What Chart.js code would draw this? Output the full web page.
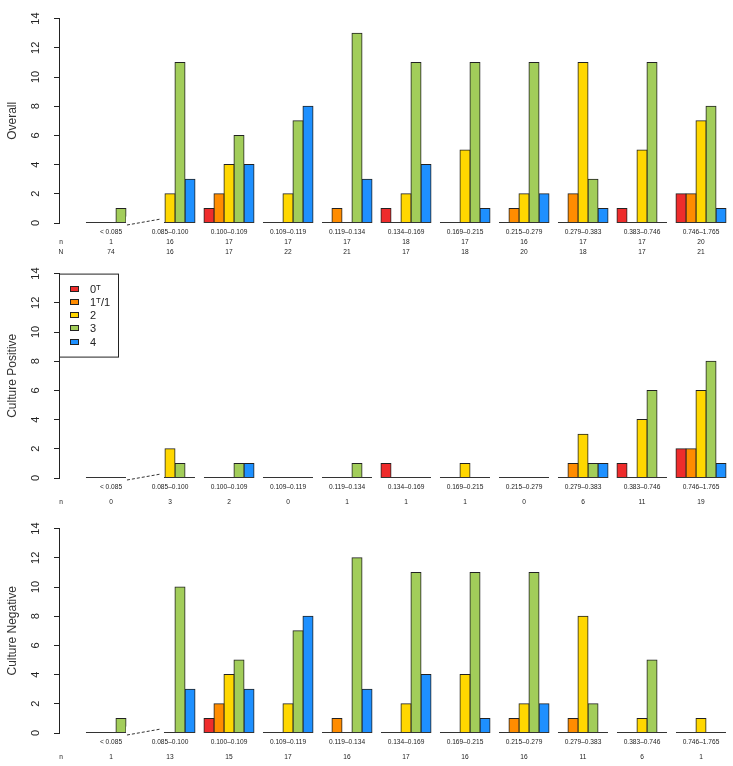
<!DOCTYPE html>
<html>
<head>
<meta charset="utf-8">
<script src="https://cdn.jsdelivr.net/npm/chart.js@4.4.1/dist/chart.umd.min.js"></script>
<style>
  body { margin: 0; background: #fff; }
  canvas { display: block; }
</style>
</head>
<body>
<canvas id="overall" width="733" height="255"></canvas>
<canvas id="positive" width="733" height="255"></canvas>
<canvas id="negative" width="733" height="256"></canvas>
<script>
const categories = ['< 0.085', '0.085–0.100', '0.100–0.109', '0.109–0.119', '0.119–0.134', '0.134–0.169',
  '0.169–0.215', '0.215–0.279', '0.279–0.383', '0.383–0.746', '0.746–1.765'];
const grades = ['0ᵀ', '1ᵀ/1', '2', '3', '4'];
const gradeColors = ['#EE2C2C', '#FF8C00', '#FFD700', '#A2CD5A', '#1E90FF'];
const yTicks = [0, 2, 4, 6, 8, 10, 12, 14];

// Overall
const overall0 = [0, 0, 1, 0, 0, 1, 0, 0, 0, 1, 2];
const overall1 = [0, 0, 2, 0, 1, 0, 0, 1, 2, 0, 2];
const overall2 = [0, 2, 4, 2, 0, 2, 5, 2, 11, 5, 7];
const overall3 = [1, 11, 6, 7, 13, 11, 11, 11, 3, 11, 8];
const overall4 = [0, 3, 4, 8, 3, 4, 1, 2, 1, 0, 1];
const overallSmallN = [1, 16, 17, 17, 17, 18, 17, 16, 17, 17, 20];
const overallBigN = [74, 16, 17, 22, 21, 17, 18, 20, 18, 17, 21];

// Culture positive
const positive0 = [0, 0, 0, 0, 0, 1, 0, 0, 0, 1, 2];
const positive1 = [0, 0, 0, 0, 0, 0, 0, 0, 1, 0, 2];
const positive2 = [0, 2, 0, 0, 0, 0, 1, 0, 3, 4, 6];
const positive3 = [0, 1, 1, 0, 1, 0, 0, 0, 1, 6, 8];
const positive4 = [0, 0, 1, 0, 0, 0, 0, 0, 1, 0, 1];
const positiveN = [0, 3, 2, 0, 1, 1, 1, 0, 6, 11, 19];

// Culture negative
const negative0 = [0, 0, 1, 0, 0, 0, 0, 0, 0, 0, 0];
const negative1 = [0, 0, 2, 0, 1, 0, 0, 1, 1, 0, 0];
const negative2 = [0, 0, 4, 2, 0, 2, 4, 2, 8, 1, 1];
const negative3 = [1, 10, 5, 7, 12, 11, 11, 11, 2, 5, 0];
const negative4 = [0, 3, 3, 8, 3, 4, 1, 2, 0, 0, 0];
const negativeN = [1, 13, 15, 17, 16, 17, 16, 16, 11, 6, 1];

const FONT = '"Liberation Sans", Arial, sans-serif';
const INK = '#222';
const GROUP = 50 / 59;

// R-like extras: group baselines, axis break, n/N row names, boxed legend
const rPlot = {
  id: 'rPlot',
  afterDatasetsDraw(chart, args, opts) {
    const {ctx, scales: {x, y}} = chart;
    const y0 = Math.round(y.getPixelForValue(0)) - 0.5;
    const unit = x.getPixelForValue(1) - x.getPixelForValue(0);
    const half = unit * GROUP / 2;
    const bw = unit * GROUP / 5;
    ctx.save();
    ctx.strokeStyle = '#333';
    ctx.lineWidth = 1;
    categories.forEach((c, i) => {
      const cx = x.getPixelForValue(i);
      ctx.beginPath();
      ctx.moveTo(cx - half, y0);
      ctx.lineTo(cx + half, y0);
      ctx.stroke();
    });
    // break between the first two groups
    const bx0 = x.getPixelForValue(0) + 1.5 * bw;
    const bx1 = x.getPixelForValue(1) - 0.5 * bw;
    ctx.fillStyle = '#fff';
    ctx.fillRect(bx0, y0 - 6, bx1 - bx0 - 1, 10);
    ctx.setLineDash([3, 2]);
    ctx.beginPath();
    ctx.moveTo(bx0 + 1, y0 + 2.5);
    ctx.lineTo(bx1 - 4, y0 - 3.5);
    ctx.stroke();
    ctx.restore();
  },
  afterDraw(chart, args, opts) {
    const {ctx, scales: {x}, chartArea} = chart;
    ctx.save();
    const items = x.getLabelItems();
    if (items.length && opts.rows) {
      const it = items[0];
      const lh = it.font.lineHeight;
      const top = it.options.translation[1] + it.textOffset;
      ctx.font = it.font.string;
      ctx.fillStyle = INK;
      ctx.textAlign = 'center';
      ctx.textBaseline = 'middle';
      opts.rows.forEach((r, k) => ctx.fillText(r, 61, top + (k + 1) * lh));
    }
    if (opts.legend) {
      const L = chartArea.left, T = chartArea.top;
      ctx.strokeStyle = INK;
      ctx.lineWidth = 1;
      ctx.strokeRect(L + 0.5, T + 0.5, 59, 83);
      ctx.font = '11px ' + FONT;
      ctx.textBaseline = 'middle';
      ctx.textAlign = 'left';
      chart.data.datasets.forEach((ds, k) => {
        const cy = T + 15 + k * 13.25;
        ctx.fillStyle = ds.backgroundColor;
        ctx.fillRect(L + 11, Math.round(cy - 3), 9, 6);
        ctx.strokeStyle = INK;
        ctx.strokeRect(L + 11.5, Math.round(cy - 3) + 0.5, 8, 5);
        ctx.fillStyle = INK;
        ctx.fillText(ds.label, L + 31, cy + 1);
      });
    }
    ctx.restore();
  }
};

function makeChart(id, series, title, rowNames, rowData, lineH, pad, legend) {
  const H = document.getElementById(id).height;
  const datasets = series.map((vals, k) => ({
    label: grades[k],
    data: vals.map((v, i) => ({x: i, y: v})),
    backgroundColor: gradeColors[k],
    borderColor: INK,
    borderWidth: 1,
    borderSkipped: false,
    inflateAmount: 0.5,
    categoryPercentage: GROUP,
    barPercentage: 1
  }));
  return new Chart(document.getElementById(id), {
    type: 'bar',
    data: {datasets},
    plugins: [rPlot],
    options: {
      responsive: false,
      animation: false,
      devicePixelRatio: 1,
      layout: {padding: {top: 12, right: 2.5, left: 0, bottom: 0}},
      plugins: {
        legend: {display: false},
        tooltip: {enabled: false},
        rPlot: {rows: rowNames, legend}
      },
      scales: {
        x: {
          type: 'linear',
          min: -0.881,
          max: 10.5,
          offset: false,
          grid: {display: false, drawTicks: false},
          border: {display: false},
          afterFit: s => { s.height = H - 223; },
          ticks: {
            stepSize: 1,
            includeBounds: false,
            autoSkip: false,
            maxRotation: 0,
            maxTicksLimit: 20,
            padding: pad,
            color: INK,
            font: {family: FONT, size: 6.6, lineHeight: lineH},
            callback: v => Number.isInteger(v) && categories[v] !== undefined
              ? [categories[v], ...rowData.map(r => String(r[v]))] : ''
          }
        },
        y: {
          min: 0,
          max: 14,
          afterFit: s => { s.width = 59; },
          afterBuildTicks: s => { s.ticks = yTicks.map(v => ({value: v})); },
          grid: {drawOnChartArea: false, drawTicks: true, tickLength: 5, color: INK},
          border: {display: true, color: INK, width: 1},
          title: {display: true, text: title, color: '#333', font: {family: FONT, size: 12}, padding: {top: 5, bottom: 0}},
          ticks: {
            minRotation: 90,
            maxRotation: 90,
            crossAlign: 'center',
            padding: 12,
            color: INK,
            font: {family: FONT, size: 11}
          }
        }
      }
    }
  });
}

makeChart('overall', [overall0, overall1, overall2, overall3, overall4], 'Overall',
  ['n', 'N'], [overallSmallN, overallBigN], '10px', 4, false);
makeChart('positive', [positive0, positive1, positive2, positive3, positive4], 'Culture Positive',
  ['n'], [positiveN], '14.5px', 2, true);
makeChart('negative', [negative0, negative1, negative2, negative3, negative4], 'Culture Negative',
  ['n'], [negativeN], '14.5px', 2, false);
</script>
</body>
</html>
